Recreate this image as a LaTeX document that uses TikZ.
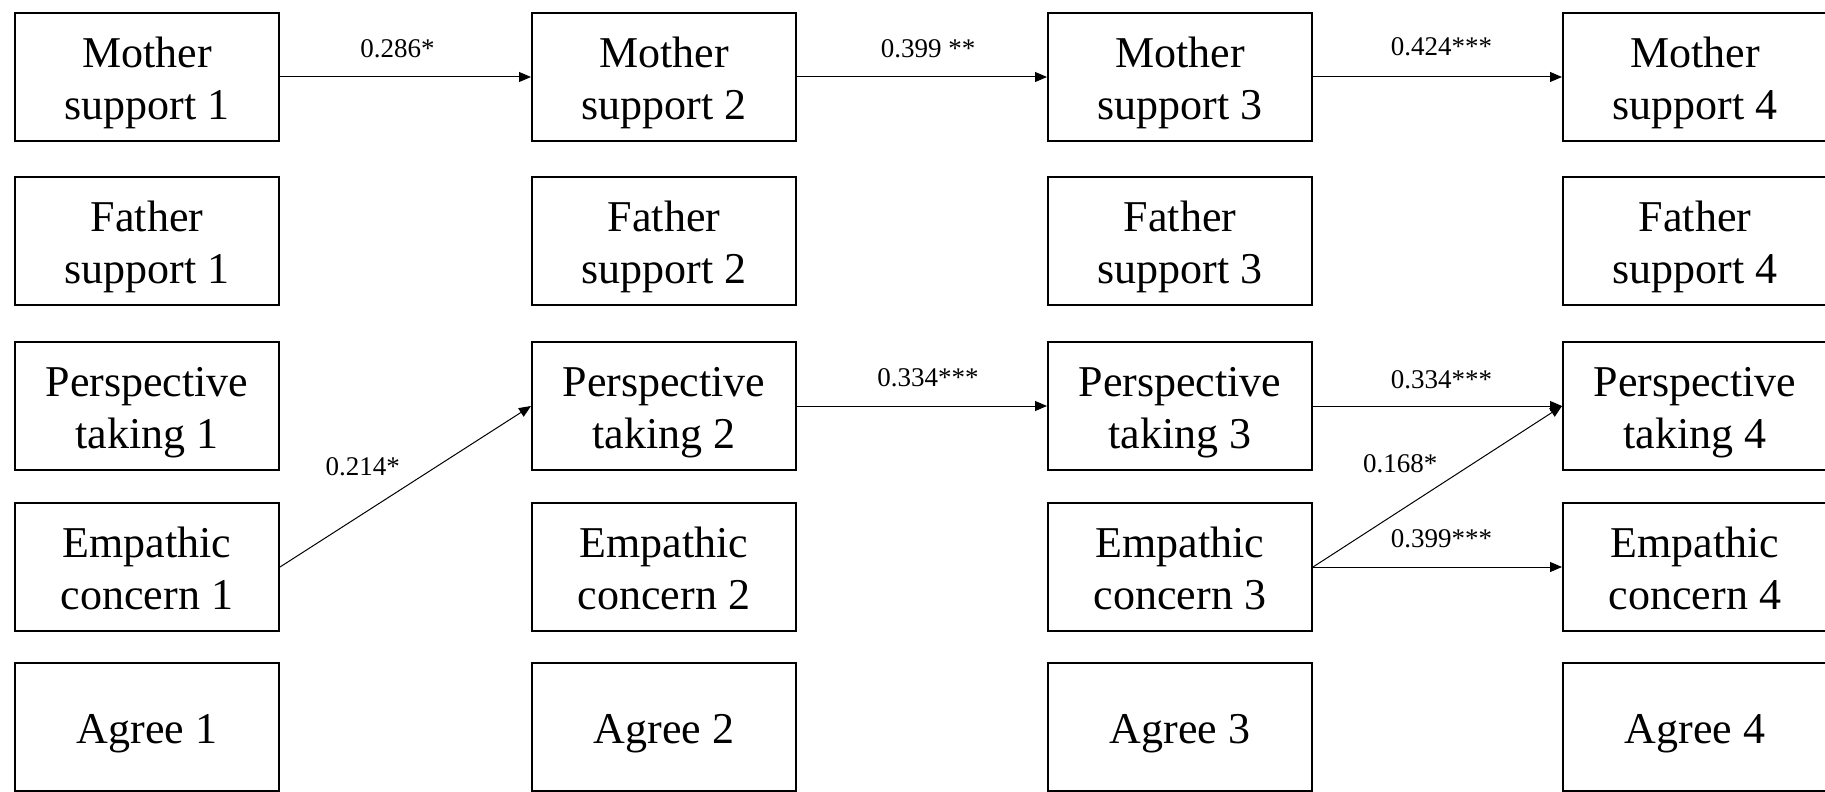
\documentclass[tikz,border=0pt]{standalone}
\usepackage{fontspec}
\setmainfont{Liberation Serif}
\usetikzlibrary{arrows.meta}
\usetikzlibrary{positioning}
\newcommand{\boxlbl}[1]{\raisebox{0pt}[\dimexpr\height+6.5pt\relax][\depth]{\begin{tabular}{@{}c@{}}#1\end{tabular}}}
\tikzset{varbox/.style = {draw, line width = 1pt, minimum width = 132pt, minimum height = 64pt, inner sep = 0, font = \fontsize{22}{26}\selectfont}}
\tikzset{path/.style = {line width = 0.5pt, -{Triangle[length = 6pt, width = 5pt]}}}
\tikzset{coef/.style = {inner sep = 0, font = \fontsize{13.5}{15}\selectfont}}

\begin{document}
\begin{tikzpicture}[x = 0.5pt, y = -0.5pt]
      \useasboundingbox (0, 0) rectangle (1825, 792);

      \foreach \i/\x in {1/147, 2/664, 3/1180, 4/1695} {
        \node [varbox] (ms\i) at (\x, 77) {\boxlbl{Mother\\support \i}};
        \node [varbox] (fs\i) at (\x, 241) {\boxlbl{Father\\support \i}};
        \node [varbox] (pt\i) at (\x, 406) {\boxlbl{Perspective\\taking \i}};
        \node [varbox] (ec\i) at (\x, 567) {\boxlbl{Empathic\\concern \i}};
        \node [varbox] (ag\i) at (\x, 727) {\boxlbl{Agree \i}};
      }

      \draw [path] (ms1.east) -- node [coef, yshift = 14pt, xshift = -4pt] (b12) {0.286*} (ms2.west);
      \draw [path] (ms2.east) -- node [coef, yshift = 14pt, xshift = 3pt] (b23) {0.399 **} (ms3.west);
      \draw [path] (ms3.east) -- node [coef, yshift = 15pt, xshift = 2pt] (b34) {0.424***} (ms4.west);

      \draw [path] (pt2.east) -- node [coef, yshift = 14pt, xshift = 3pt] (p23) {0.334***} (pt3.west);
      \draw [path] (pt3.east) -- node [coef, yshift = 13pt, xshift = 2pt] (p34) {0.334***} (pt4.west);

      \draw [path] (ec1.east) -- node [coef, pos = 0.33, yshift = 23.5pt] (e12) {0.214*} (pt2.west);
      \draw [path] (ec3.east) -- node [coef, pos = 0.35, yshift = 23.5pt] (e34) {0.168*} (pt4.west);
      \draw [path] (ec3.east) -- node [coef, yshift = 14pt, xshift = 2pt] (ee34) {0.399***} (ec4.west);
    \end{tikzpicture}
\end{document}
